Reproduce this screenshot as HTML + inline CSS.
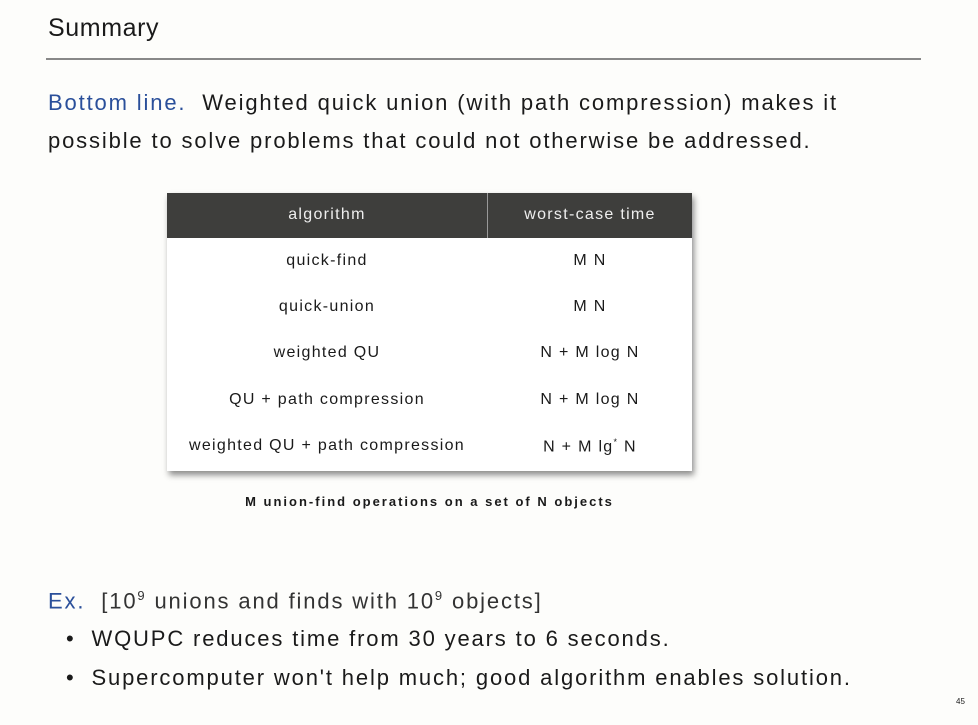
<!DOCTYPE html>
<html><head><meta charset="utf-8"><style>
body{margin:0;width:978px;height:725px;background:#fdfdfb;font-family:"Liberation Sans","DejaVu Sans",sans-serif;color:#1a1a1a;position:relative;overflow:hidden}
.a{position:absolute;white-space:nowrap}
.t{font-size:22px;letter-spacing:1.85px}
</style></head><body>
<div class="a" style="left:48px;top:14px;font-size:25px;letter-spacing:0.6px">Summary</div>
<div class="a" style="left:46px;top:58px;width:875px;height:2px;background:#888"></div>
<div class="a t" style="left:48px;top:90px"><span style="color:#2a4f9a">Bottom line.</span>&nbsp; Weighted quick union (with path compression) makes it</div>
<div class="a t" style="left:48px;top:128px">possible to solve problems that could not otherwise be addressed.</div>
<div class="a" style="left:167px;top:193px;width:525px;height:278px;box-shadow:2px 4px 6px rgba(0,0,0,0.45);background:#fff;font-size:16px;letter-spacing:1.3px">
<div class="a" style="left:0;top:0;width:525px;height:45px;background:#3e3e3c;color:#eee">
<div class="a" style="left:0;width:320px;top:13px;text-align:center">algorithm</div>
<div class="a" style="left:320px;top:0;width:1px;height:45px;background:#999"></div>
<div class="a" style="left:321px;width:204px;top:13px;text-align:center">worst-case time</div>
</div>
<div class="a" style="top:59px;left:0;width:525px"><span class="a" style="left:0;width:320px;text-align:center">quick-find</span><span class="a" style="left:321px;width:204px;text-align:center">M N</span></div>
<div class="a" style="top:105px;left:0;width:525px"><span class="a" style="left:0;width:320px;text-align:center">quick-union</span><span class="a" style="left:321px;width:204px;text-align:center">M N</span></div>
<div class="a" style="top:151px;left:0;width:525px"><span class="a" style="left:0;width:320px;text-align:center">weighted QU</span><span class="a" style="left:321px;width:204px;text-align:center">N + M log N</span></div>
<div class="a" style="top:198px;left:0;width:525px"><span class="a" style="left:0;width:320px;text-align:center">QU + path compression</span><span class="a" style="left:321px;width:204px;text-align:center">N + M log N</span></div>
<div class="a" style="top:244px;left:0;width:525px"><span class="a" style="left:0;width:320px;text-align:center">weighted QU + path compression</span><span class="a" style="left:321px;width:204px;text-align:center">N + M lg<sup style="font-size:9px">*</sup> N</span></div>
</div>
<div class="a" style="left:167px;width:525px;top:494px;text-align:center;font-size:13px;font-weight:bold;letter-spacing:2px">M union-find operations on a set of N objects</div>
<div class="a t" style="left:48px;top:588px;color:#333"><span style="color:#2a4f9a">Ex.</span>&nbsp; [10<sup style="font-size:13px">9</sup> unions and finds with 10<sup style="font-size:13px">9</sup> objects]</div>
<div class="a t" style="left:66px;top:626px">•&nbsp; WQUPC reduces time from 30 years to 6 seconds.</div>
<div class="a t" style="left:66px;top:665px">•&nbsp; Supercomputer won't help much; good algorithm enables solution.</div>
<div class="a" style="left:956px;top:697px;font-size:8px">45</div>
</body></html>
